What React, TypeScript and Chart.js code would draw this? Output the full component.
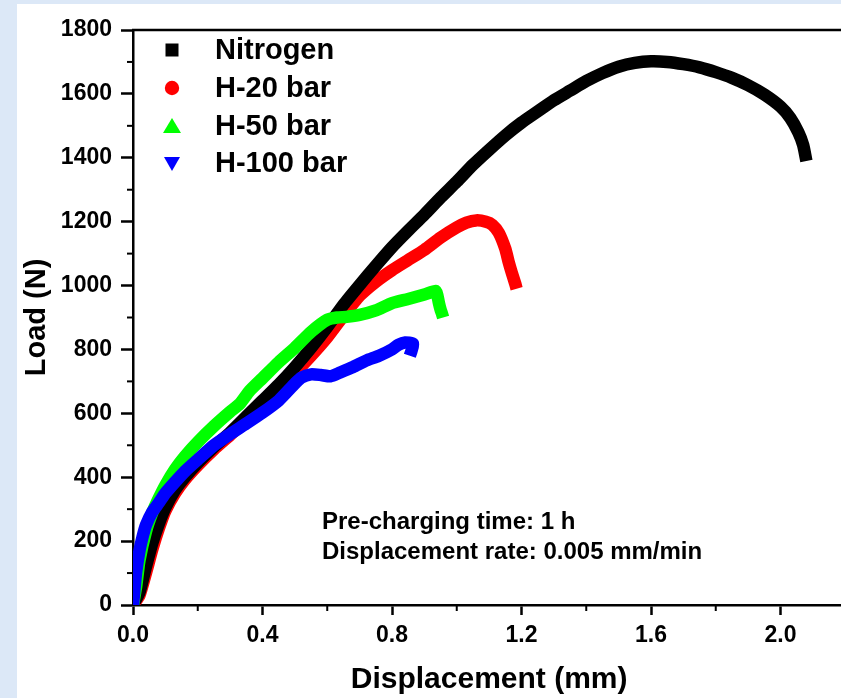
import React, { useEffect, useRef } from 'react';
import { Chart, registerables } from 'chart.js';

Chart.register(...registerables);

const seriesNames = ['Nitrogen', 'H-20 bar', 'H-50 bar', 'H-100 bar'];
const seriesColors = ['#000000', '#ff0000', '#00ff00', '#0000ff'];

const nitrogenX = [0, 0.02, 0.04, 0.06, 0.08, 0.10, 0.13, 0.16, 0.20, 0.25, 0.30, 0.35, 0.40, 0.45, 0.50, 0.55, 0.60, 0.65, 0.70, 0.75, 0.80, 0.85, 0.90, 0.95, 1.00, 1.05, 1.10, 1.15, 1.20, 1.25, 1.30, 1.35, 1.40, 1.45, 1.50, 1.55, 1.60, 1.65, 1.70, 1.75, 1.80, 1.85, 1.90, 1.95, 2.00, 2.03, 2.055, 2.07, 2.08];
const nitrogenY = [0, 40, 120, 195, 255, 305, 360, 400, 445, 495, 540, 590, 640, 690, 745, 805, 870, 940, 1002, 1062, 1120, 1172, 1222, 1275, 1325, 1378, 1425, 1470, 1510, 1545, 1580, 1610, 1640, 1665, 1685, 1697, 1702, 1700, 1693, 1683, 1668, 1650, 1627, 1598, 1560, 1525, 1480, 1440, 1390];

const h20X = [0, 0.02, 0.04, 0.06, 0.08, 0.10, 0.13, 0.16, 0.20, 0.25, 0.30, 0.35, 0.40, 0.45, 0.50, 0.55, 0.60, 0.65, 0.70, 0.75, 0.80, 0.85, 0.90, 0.95, 1.00, 1.03, 1.06, 1.09, 1.11, 1.13, 1.15, 1.16, 1.17, 1.18, 1.185];
const h20Y = [0, 30, 100, 175, 240, 295, 350, 392, 437, 487, 532, 580, 628, 676, 726, 780, 838, 905, 968, 1012, 1048, 1080, 1112, 1150, 1182, 1197, 1204, 1200, 1190, 1165, 1115, 1075, 1040, 1008, 990];

const h50X = [0, 0.01, 0.02, 0.04, 0.06, 0.08, 0.10, 0.13, 0.16, 0.20, 0.25, 0.30, 0.33, 0.36, 0.40, 0.45, 0.50, 0.55, 0.60, 0.63, 0.66, 0.70, 0.75, 0.80, 0.85, 0.90, 0.935, 0.94, 0.945, 0.95, 0.955, 0.958];
const h50Y = [0, 60, 140, 230, 290, 335, 375, 425, 465, 510, 560, 605, 630, 670, 710, 760, 805, 855, 893, 900, 902, 908, 922, 945, 958, 972, 983, 970, 945, 925, 910, 900];

const h100X = [0, 0.005, 0.01, 0.02, 0.03, 0.04, 0.06, 0.08, 0.10, 0.13, 0.16, 0.20, 0.25, 0.30, 0.35, 0.40, 0.45, 0.50, 0.52, 0.55, 0.58, 0.61, 0.64, 0.68, 0.72, 0.76, 0.80, 0.82, 0.84, 0.865, 0.86, 0.855];
const h100Y = [0, 55, 105, 170, 215, 250, 292, 320, 350, 385, 418, 455, 500, 535, 568, 602, 640, 693, 712, 722, 720, 716, 728, 745, 765, 780, 800, 815, 822, 818, 795, 780];

const xMinorTicks = [0.2, 0.6, 1.0, 1.4, 1.8];
const yMinorTicks = [100, 300, 500, 700, 900, 1100, 1300, 1500, 1700];
const annotationLines = ['Pre-charging time: 1 h', 'Displacement rate: 0.005 mm/min'];

const FONT = '"Liberation Sans", Arial, Helvetica, sans-serif';

function toPoints(xs: number[], ys: number[]) {
  return xs.map((x, i) => ({ x, y: ys[i] }));
}

const decorPlugin = {
  id: 'decor',
  afterDraw(chart: any) {
    const { ctx, chartArea, scales } = chart;
    const xs = scales.x;
    const ys = scales.y;
    ctx.save();
    ctx.strokeStyle = '#000';
    ctx.lineWidth = 2.5;
    // top frame
    ctx.beginPath();
    ctx.moveTo(chartArea.left - 1, chartArea.top);
    ctx.lineTo(chartArea.right + 20, chartArea.top);
    ctx.stroke();
    // minor ticks
    ctx.lineWidth = 2;
    xMinorTicks.forEach((v) => {
      const px = xs.getPixelForValue(v);
      ctx.beginPath();
      ctx.moveTo(px, chartArea.bottom);
      ctx.lineTo(px, chartArea.bottom + 6);
      ctx.stroke();
    });
    yMinorTicks.forEach((v) => {
      const py = ys.getPixelForValue(v);
      ctx.beginPath();
      ctx.moveTo(chartArea.left - 6, py);
      ctx.lineTo(chartArea.left, py);
      ctx.stroke();
    });

    // legend
    const lx = chartArea.left + 39;
    const tx = chartArea.left + 82;
    const rowY = [20, 58, 96, 133].map((d) => chartArea.top + d);
    ctx.font = `bold 29px ${FONT}`;
    ctx.textBaseline = 'middle';
    ctx.textAlign = 'left';
    seriesNames.forEach((name, i) => {
      const cy = rowY[i];
      ctx.fillStyle = seriesColors[i];
      ctx.beginPath();
      if (i === 0) {
        ctx.rect(lx - 6.5, cy - 6.5, 13, 13);
      } else if (i === 1) {
        ctx.arc(lx, cy, 7.2, 0, Math.PI * 2);
      } else if (i === 2) {
        ctx.moveTo(lx, cy - 8);
        ctx.lineTo(lx + 9, cy + 7);
        ctx.lineTo(lx - 9, cy + 7);
        ctx.closePath();
      } else {
        ctx.moveTo(lx, cy + 8);
        ctx.lineTo(lx + 8, cy - 6);
        ctx.lineTo(lx - 8, cy - 6);
        ctx.closePath();
      }
      ctx.fill();
      ctx.fillStyle = '#000';
      ctx.fillText(name, tx, cy + 1);
    });

    // annotation
    ctx.font = `bold 24px ${FONT}`;
    ctx.fillStyle = '#000';
    annotationLines.forEach((line, i) => {
      ctx.fillText(line, chartArea.left + 189, chartArea.top + 492 + i * 30);
    });
    ctx.restore();
  },
};

export default function App() {
  const canvasRef = useRef<HTMLCanvasElement | null>(null);

  useEffect(() => {
    document.body.style.margin = '0';
    document.body.style.background = '#dce8f7';
    const canvas = canvasRef.current;
    if (!canvas) return;
    const mk = (i: number, xs: number[], ys: number[], order: number) => ({
      label: seriesNames[i],
      data: toPoints(xs, ys),
      borderColor: seriesColors[i],
      backgroundColor: seriesColors[i],
      borderWidth: 12.5,
      pointRadius: 0,
      tension: 0.2,
      borderJoinStyle: 'round' as const,
      borderCapStyle: 'butt' as const,
      fill: false,
      order,
    });
    const chart = new Chart(canvas, {
      type: 'line',
      data: {
        datasets: [
          mk(0, nitrogenX, nitrogenY, 2),
          mk(1, h20X, h20Y, 3),
          mk(2, h50X, h50Y, 1),
          mk(3, h100X, h100Y, 0),
        ],
      },
      options: {
        animation: false,
        responsive: true,
        maintainAspectRatio: false,
        layout: { padding: { top: 26, right: 11.75, left: 0, bottom: 0 } },
        plugins: {
          legend: { display: false },
          tooltip: { enabled: false },
        },
        scales: {
          x: {
            type: 'linear',
            min: 0,
            max: 2.2,
            afterFit: (s: any) => { s.height = 93; },
            ticks: {
              stepSize: 0.4,
              includeBounds: false,
              padding: 7,
              color: '#000',
              font: { family: FONT, size: 23, weight: 'bold' },
              callback: (v: any) => (Number(v) > 2.1 ? '' : Number(v).toFixed(1)),
            },
            grid: {
              display: true,
              drawOnChartArea: false,
              drawTicks: true,
              tickLength: 10,
              tickWidth: 2.5,
              tickColor: '#000',
            },
            border: { display: true, color: '#000', width: 2.5 },
            title: {
              display: true,
              text: 'Displacement (mm)',
              color: '#000',
              font: { family: FONT, size: 30, weight: 'bold' },
              padding: { top: 0, bottom: 0 },
            },
          },
          y: {
            type: 'linear',
            min: 0,
            max: 1800,
            afterFit: (s: any) => { s.width = 116; },
            ticks: {
              stepSize: 200,
              padding: 9,
              color: '#000',
              font: { family: FONT, size: 23, weight: 'bold' },
              callback: (v: any) => String(Math.round(Number(v))),
            },
            grid: {
              display: true,
              drawOnChartArea: false,
              drawTicks: true,
              tickLength: 12,
              tickWidth: 2.5,
              tickColor: '#000',
            },
            border: { display: true, color: '#000', width: 2.5 },
            title: {
              display: true,
              text: 'Load (N)',
              color: '#000',
              font: { family: FONT, size: 29, weight: 'bold' },
              padding: { top: 3, bottom: 0 },
            },
          },
        },
      },
      plugins: [decorPlugin],
    });
    return () => chart.destroy();
  }, []);

  return (
    <div
      style={{
        position: 'absolute',
        left: 17,
        top: 4,
        width: 824,
        height: 694,
        background: '#ffffff',
        overflow: 'hidden',
      }}
    >
      <div style={{ position: 'relative', width: 840, height: 694 }}>
        <canvas ref={canvasRef} />
      </div>
    </div>
  );
}
